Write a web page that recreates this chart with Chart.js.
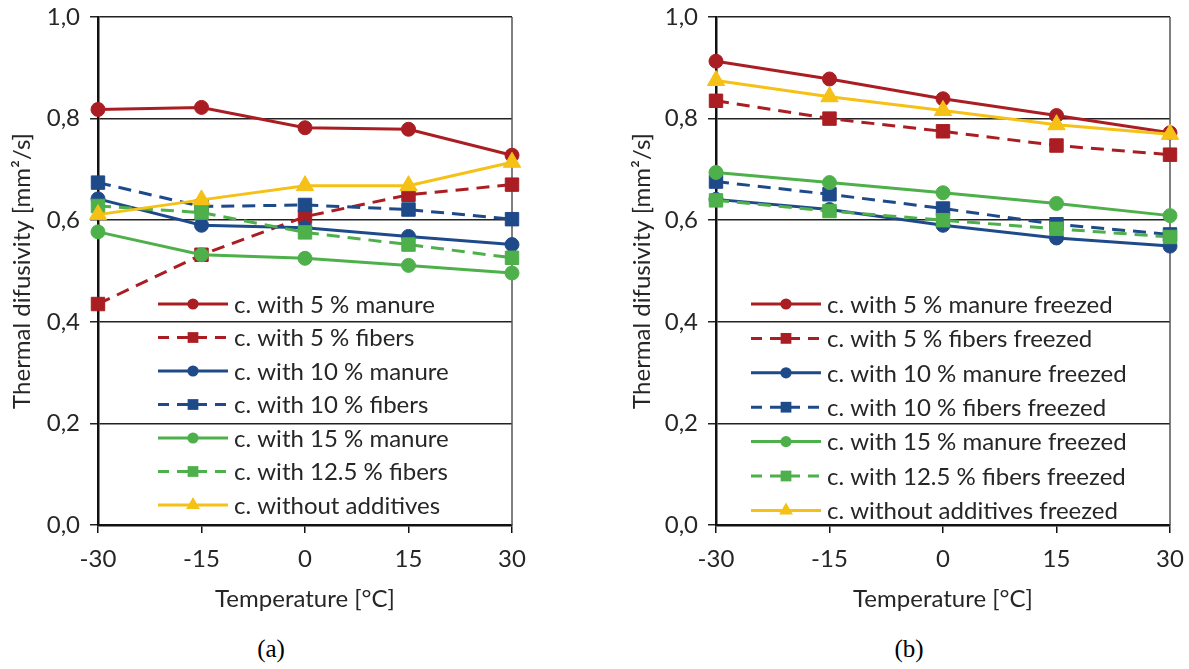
<!DOCTYPE html>
<html>
<head>
<meta charset="utf-8">
<script src="https://cdn.jsdelivr.net/npm/chart.js@4.4.1/dist/chart.umd.min.js"></script>
<style>
  body { margin: 0; background: #fff; }
  #wrap { position: relative; width: 1189px; height: 669px; background: #fff; overflow: hidden; }
  canvas { position: absolute; top: 0; }
  #chartA { left: 0; }
  #chartB { left: 620px; }
  .cap { position: absolute; top: 635px; width: 60px; text-align: center; font-family: "Liberation Serif", serif; font-size: 25px; color: #000; }
</style>
</head>
<body>
<div id="wrap">
  <canvas id="chartA" width="560" height="625"></canvas>
  <canvas id="chartB" width="569" height="625"></canvas>
  <div class="cap" style="left:241px">(a)</div>
  <div class="cap" style="left:879px">(b)</div>
</div>
<script>
// temperatures on the x axis
const temps = ["-30", "-15", "0", "15", "30"];

// thermal diffusivity [mm2/s], fresh samples
const manure5 = [0.818, 0.822, 0.782, 0.779, 0.728];
const fibers5 = [0.435, 0.532, 0.607, 0.650, 0.670];
const manure10 = [0.642, 0.590, 0.585, 0.568, 0.552];
const fibers10 = [0.674, 0.627, 0.630, 0.621, 0.602];
const manure15 = [0.577, 0.532, 0.525, 0.511, 0.496];
const fibers125 = [0.628, 0.615, 0.576, 0.552, 0.526];
const noAdditives = [0.611, 0.640, 0.668, 0.668, 0.714];

// same mixtures after freezing
const manure5F = [0.913, 0.878, 0.839, 0.806, 0.772];
const fibers5F = [0.835, 0.800, 0.775, 0.747, 0.729];
const manure10F = [0.641, 0.621, 0.590, 0.565, 0.549];
const fibers10F = [0.676, 0.651, 0.623, 0.592, 0.572];
const manure15F = [0.694, 0.674, 0.654, 0.633, 0.609];
const fibers125F = [0.639, 0.618, 0.600, 0.583, 0.567];
const noAdditivesF = [0.875, 0.843, 0.816, 0.788, 0.769];

const yTicks = [0, 0.2, 0.4, 0.6, 0.8, 1.0];

const RED = "#AA1E23";
const BLUE = "#1F4A8A";
const GREEN = "#4DB04A";
const YELLOW = "#F5C116";

Chart.defaults.font.family = "Lato";
Chart.defaults.font.size = 24;
Chart.defaults.color = "#262626";

function series(label, data, color, style, dashed, i) {
  const r = style === "rect" ? 9.5 : (style === "triangle" ? 10 : 7);
  return {
    label: label,
    data: data,
    borderColor: color,
    backgroundColor: color,
    pointBackgroundColor: color,
    pointBorderColor: color,
    pointBorderWidth: 1,
    borderWidth: 3,
    borderDash: dashed ? [13, 8] : [],
    pointStyle: style,
    pointRadius: r,
    tension: 0,
    order: -i
  };
}

// legend drawn inside the plot area, rows going down
const insideLegend = {
  id: "insideLegend",
  afterDatasetsDraw(chart, args, opts) {
    const ctx = chart.ctx;
    ctx.save();
    ctx.font = opts.size + "px Lato";
    ctx.textBaseline = "middle";
    ctx.textAlign = "left";
    chart.data.datasets.forEach((ds, i) => {
      const y = opts.top + i * opts.row;
      ctx.strokeStyle = ds.borderColor;
      ctx.lineWidth = 3;
      ctx.setLineDash(ds.borderDash.length ? [11, 8] : []);
      ctx.beginPath();
      ctx.moveTo(opts.left, y);
      ctx.lineTo(opts.left + 70, y);
      ctx.stroke();
      ctx.setLineDash([]);
      ctx.fillStyle = ds.borderColor;
      Chart.helpers.drawPoint(ctx, {
        pointStyle: ds.pointStyle,
        radius: ds.pointRadius * 0.8,
        borderWidth: 0,
        rotation: 0
      }, opts.left + 35, y);
      ctx.fillStyle = "#262626";
      ctx.fillText(ds.label, opts.left + 76, y + 1);
    });
    ctx.restore();
  }
};

// thin frame line on the right side of the plot area
const rightEdge = {
  id: "rightEdge",
  beforeDatasetsDraw(chart) {
    const a = chart.chartArea;
    const ctx = chart.ctx;
    ctx.save();
    ctx.strokeStyle = "#555";
    ctx.lineWidth = 1.5;
    ctx.beginPath();
    ctx.moveTo(a.right, a.top);
    ctx.lineTo(a.right, a.bottom);
    ctx.stroke();
    ctx.restore();
  }
};

function makeChart(id, datasets, yAxisWidth, padRight, legend) {
  return new Chart(document.getElementById(id), {
    type: "line",
    data: { labels: temps, datasets: datasets },
    options: {
      responsive: false,
      animation: false,
      layout: { padding: { left: 0, top: 17, right: padRight, bottom: 0 } },
      plugins: {
        legend: { display: false },
        tooltip: { enabled: false },
        insideLegend: legend
      },
      scales: {
        x: {
          type: "category",
          offset: false,
          grid: { drawOnChartArea: false, tickLength: 8, color: "#111", lineWidth: 1.5 },
          border: { color: "#111", width: 2.5 },
          ticks: { padding: 12, maxRotation: 0 },
          title: { display: true, text: "Temperature [°C]", padding: { top: 0, bottom: 11 } },
          afterFit: s => {
            s.height = 100;
            s.paddingLeft = 0;
            s.paddingRight = 0;
          }
        },
        y: {
          min: 0,
          max: 1,
          afterBuildTicks: s => { s.ticks = yTicks.map(v => ({ value: v })); },
          grid: { color: "#222", lineWidth: 1.5, tickLength: 8 },
          border: { color: "#111", width: 2.5 },
          ticks: {
            padding: 10,
            callback: v => v.toFixed(1).replace(".", ",")
          },
          title: { display: true, text: "Thermal difusivity [mm²/s]", padding: { top: 8, bottom: 0 } },
          afterFit: s => {
            s.width = yAxisWidth;
            s.paddingTop = 0;
            s.paddingBottom = 0;
          }
        }
      }
    },
    plugins: [rightEdge, insideLegend]
  });
}

makeChart("chartA", [
  series("c. with 5 % manure", manure5, RED, "circle", false, 0),
  series("c. with 5 % fibers", fibers5, RED, "rect", true, 1),
  series("c. with 10 % manure", manure10, BLUE, "circle", false, 2),
  series("c. with 10 % fibers", fibers10, BLUE, "rect", true, 3),
  series("c. with 15 % manure", manure15, GREEN, "circle", false, 4),
  series("c. with 12.5 % fibers", fibers125, GREEN, "rect", true, 5),
  series("c. without additives", noAdditives, YELLOW, "triangle", false, 6)
], 98, 48, { left: 158, top: 304, row: 33.5, size: 24 });

makeChart("chartB", [
  series("c. with 5 % manure freezed", manure5F, RED, "circle", false, 0),
  series("c. with 5 % fibers freezed", fibers5F, RED, "rect", true, 1),
  series("c. with 10 % manure freezed", manure10F, BLUE, "circle", false, 2),
  series("c. with 10 % fibers freezed", fibers10F, BLUE, "rect", true, 3),
  series("c. with 15 % manure freezed", manure15F, GREEN, "circle", false, 4),
  series("c. with 12.5 % fibers freezed", fibers125F, GREEN, "rect", true, 5),
  series("c. without additives freezed", noAdditivesF, YELLOW, "triangle", false, 6)
], 96, 19, { left: 131, top: 304, row: 34.4, size: 24 });
</script>
</body>
</html>
